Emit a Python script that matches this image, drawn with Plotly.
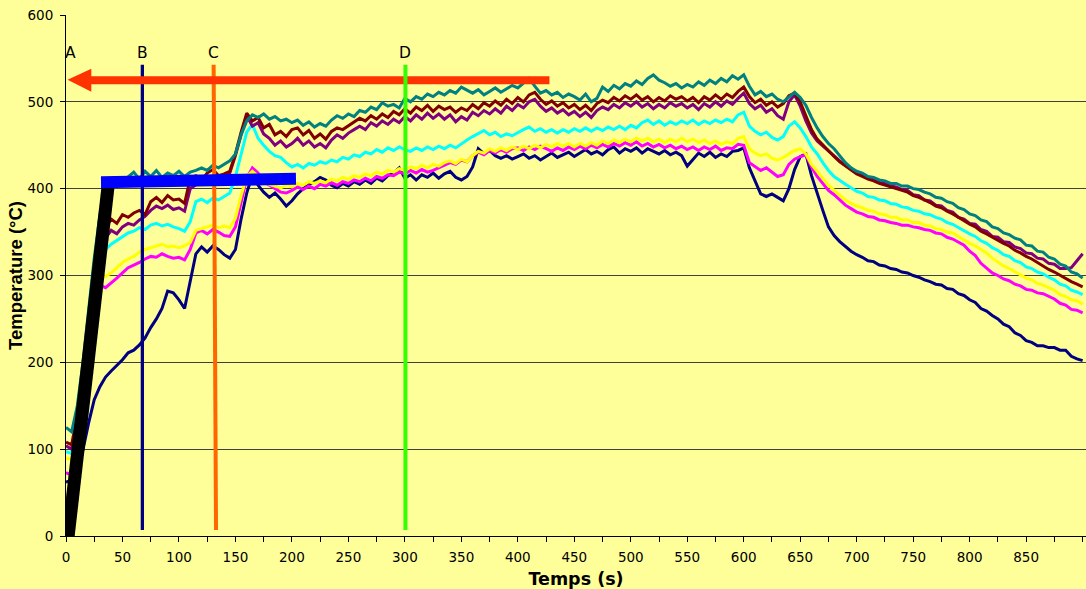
import plotly.graph_objects as go

# Sample times (s), one reading every 5 s
temps_s = list(range(0, 901, 5))

# Thermocouple readings (°C), rows of ten samples = 50 s
tc_navy = [
    62, 64, 72, 99, 130, 157, 172, 183, 190, 196,
    203, 211, 214, 220, 228, 240, 250, 262, 282, 280,
    272, 262, 292, 325, 333, 327, 334, 330, 324, 320,
    330, 365, 395, 416, 404, 396, 390, 395, 388, 380,
    386, 394, 400, 405, 408, 413, 410, 404, 401, 406,
    403, 408, 405, 410, 406, 412, 409, 415, 418, 424,
    412, 416, 410, 416, 413, 418, 412, 417, 420, 413,
    410, 414, 425, 446, 440, 444, 438, 435, 438, 434,
    437, 440, 435, 438, 433, 437, 441, 436, 439, 442,
    437, 441, 445, 440, 443, 439, 445, 448, 441, 446,
    443, 447, 441, 446, 443, 440, 444, 439, 442, 438,
    426, 434, 441, 437, 442, 436, 440, 437, 443, 444,
    447, 424, 408, 394, 391, 394, 390, 386, 400, 422,
    437, 440, 415, 394, 375, 356, 346, 339, 333, 328,
    324, 321, 317, 316, 312, 311, 308, 307, 304, 303,
    300, 298, 295, 293, 290, 289, 285, 284, 279, 277,
    272, 269, 262, 259, 254, 250, 244, 241, 234, 231,
    225, 223, 219, 219, 217, 217, 214, 214, 207, 204,
    202,
]
tc_magenta = [
    73, 70, 110, 165, 215, 255, 289, 286, 291, 297,
    303, 309, 312, 315, 319, 322, 321, 325, 322, 320,
    321, 318, 330, 349, 352, 348, 353, 350, 346, 345,
    356, 385, 412, 424, 418, 408, 404, 399, 396, 395,
    398, 402, 399, 403, 400, 405, 403, 407, 404, 408,
    406, 410, 408, 412, 409, 414, 412, 416, 415, 419,
    417, 421, 418, 422, 419, 421, 424, 427, 430, 428,
    433, 431, 438, 442, 439, 444, 441, 445, 442, 446,
    447, 444, 448, 445, 449, 446, 443, 447, 444, 448,
    445, 449, 446, 450, 447, 451, 448, 452, 449, 453,
    450, 454, 449, 452, 448, 451, 447, 450, 446, 449,
    445, 448, 444, 448, 445, 449, 444, 447, 446, 451,
    450, 430, 425, 421, 424, 419, 414, 416, 428, 434,
    437, 439, 425, 414, 406, 398, 393, 387, 381, 377,
    373, 371, 368, 367, 364, 363, 361, 360, 358, 358,
    356, 355, 353, 352, 349, 348, 344, 342, 338, 335,
    328, 323, 314, 309, 303, 300, 296, 294, 290, 288,
    284, 283, 280, 279, 276, 273, 268, 266, 261, 260,
    257,
]
tc_yellow = [
    90, 88, 125, 175, 225, 265, 296, 299, 303, 309,
    315, 319, 322, 327, 330, 332, 334, 336, 333, 334,
    332, 334, 338, 352, 354, 356, 358, 355, 357, 355,
    366, 392, 414, 420, 414, 409, 405, 403, 401, 404,
    402, 406, 404, 408, 406, 409, 407, 411, 409, 413,
    411, 415, 413, 417, 415, 419, 417, 421, 419, 423,
    421, 425, 423, 427, 424, 428, 426, 430, 432, 429,
    434, 431, 438, 443, 441, 446, 443, 447, 444, 448,
    445, 449, 446, 450, 447, 451, 448, 452, 449, 452,
    448, 452, 449, 453, 450, 455, 452, 456, 453, 457,
    454, 458, 455, 458, 454, 457, 453, 457, 454, 458,
    454, 457, 453, 456, 452, 455, 451, 454, 452, 458,
    460, 446, 441, 438, 440, 435, 433, 436, 440, 444,
    446, 440, 428, 420, 412, 404, 398, 392, 387, 383,
    380, 378, 375, 374, 371, 370, 367, 367, 364, 364,
    361, 361, 358, 357, 354, 353, 350, 349, 345, 342,
    337, 334, 330, 326, 320, 316, 311, 308, 304, 301,
    297, 295, 291, 289, 286, 283, 278, 276, 272, 271,
    267,
]
tc_cyan = [
    97, 95, 140, 190, 240, 290, 328, 330, 336, 340,
    345, 349, 351, 355, 353, 358, 360, 357, 359, 356,
    354, 351, 362, 385, 388, 384, 389, 387, 391, 395,
    414, 440, 465, 474, 458, 450, 443, 438, 436, 430,
    425, 428, 424, 429, 427, 431, 429, 433, 431, 436,
    434, 439, 437, 442, 440, 445, 442, 447, 444, 448,
    445, 443, 447, 444, 448, 445, 449, 446, 450, 447,
    452, 456, 460, 464, 467, 462, 465, 460, 463, 461,
    465, 468, 471, 466, 469, 465, 468, 464, 468, 465,
    469, 466, 470, 466, 470, 467, 471, 468, 472, 468,
    473, 470, 476, 479, 474, 478, 473, 477, 474, 478,
    475, 479, 474, 478, 475, 479, 476, 480, 477, 485,
    488, 472, 466, 462, 465, 459, 456, 460, 472, 477,
    470, 460, 448, 440, 430, 421, 414, 409, 405, 401,
    397, 395, 391, 390, 387, 386, 383, 382, 379, 378,
    375, 374, 371, 370, 367, 365, 361, 359, 355, 352,
    348, 345, 340, 337, 332, 329, 324, 322, 317, 315,
    310, 308, 304, 302, 298, 295, 290, 288, 283, 281,
    278,
]
tc_purple = [
    104, 100, 135, 185, 235, 285, 325, 343, 352, 348,
    356, 360, 358, 364, 368, 375, 380, 377, 381, 376,
    378, 374, 400, 405, 409, 412, 408, 411, 414, 418,
    438, 462, 484, 472, 476, 463, 458, 450, 455, 448,
    452, 458, 450, 455, 448, 452, 447, 456, 462, 458,
    464, 468, 472, 468, 476, 472, 478, 474, 480, 476,
    483, 478, 485, 480, 487, 481, 486, 480, 485, 477,
    483, 479, 488, 484, 490, 486, 492, 487, 495, 490,
    497, 493, 500, 503, 495, 489, 493, 487, 491, 485,
    489, 483, 488, 482, 490, 494, 491, 497, 493, 499,
    495, 500, 494, 498, 492, 497, 493, 499, 495, 498,
    493, 497, 491, 498, 494, 500, 495, 501, 497, 504,
    510, 498, 492, 496, 488, 492, 484, 480, 500, 508,
    495, 478, 464, 455, 449, 444, 438, 432, 427, 422,
    418, 416, 412, 411, 407, 406, 403, 402, 399, 398,
    393, 392, 387, 386, 381, 380, 375, 373, 367, 365,
    360, 359, 353, 351, 345, 344, 339, 338, 333, 331,
    326, 325, 320, 319, 314, 313, 308, 308, 309, 317,
    325,
]
tc_maroon = [
    108, 105, 140, 190, 240, 290, 335, 355, 365, 360,
    370, 367, 372, 375, 370, 385, 390, 384, 392, 387,
    388, 383, 412, 415, 410, 418, 422, 415, 417, 420,
    440, 465, 487, 478, 482, 470, 474, 462, 466, 460,
    468, 470, 462, 467, 458, 463, 457, 466, 470, 468,
    472, 476, 481, 478, 484, 480, 486, 482, 489, 485,
    492, 487, 494, 490, 496, 489, 495, 491, 494, 488,
    493, 490, 497, 492, 499, 495, 501, 496, 503, 498,
    505, 500, 508, 511, 503, 497, 501, 495, 499, 493,
    497, 491, 496, 490, 498, 502, 499, 505, 501, 507,
    503, 508, 502, 506, 500, 505, 501, 507, 503, 506,
    501, 505, 499, 506, 502, 508, 503, 509, 505, 512,
    517, 506, 499, 503, 496, 500, 494, 498, 507, 510,
    500, 484, 468, 457, 450, 444, 437, 431, 426, 421,
    417, 414, 411, 409, 406, 404, 402, 400, 398, 396,
    392, 390, 387, 384, 380, 378, 374, 371, 367, 363,
    359, 356, 351, 348, 344, 341, 337, 334, 329, 326,
    322, 319, 315, 312, 307, 304, 300, 297, 293, 290,
    287,
]
tc_teal = [
    125, 120, 150, 200, 260, 320, 370, 398, 400, 403,
    408, 414, 419, 411, 420, 414, 421, 413, 418, 415,
    420, 414, 419, 421, 424, 421, 427, 424, 428, 432,
    440, 462, 478, 485, 482, 486, 480, 483, 478, 480,
    476, 479, 473, 477, 471, 475, 472, 479, 484, 481,
    486, 483, 490, 488, 494, 491, 499, 495, 497, 493,
    504, 500, 506, 503, 509, 506, 511, 508, 513, 510,
    517, 513, 510, 514, 508, 512, 516, 511, 515, 519,
    516, 522, 527, 518, 510, 513, 508, 511, 505, 509,
    506, 502, 509, 500, 504, 517, 512, 519, 515, 521,
    518, 524, 520, 527, 531, 525, 522, 518, 521, 516,
    520, 517, 523, 519, 525, 521, 527, 523, 530, 526,
    531, 518, 508, 512, 506, 509, 503, 500, 506, 511,
    505, 496, 482, 470, 460, 452, 446, 438, 430, 424,
    420, 418, 414, 413, 410, 409, 406, 406, 403, 403,
    400, 399, 396, 394, 390, 389, 385, 383, 378, 376,
    371, 369, 364, 362, 356, 354, 349, 347, 343, 341,
    335, 334, 328, 327, 321, 319, 313, 311, 304, 302,
    297,
]

series = [
    ("TC1", tc_navy, "#000080"),
    ("TC2", tc_magenta, "#FF00FF"),
    ("TC3", tc_yellow, "#FFFF00"),
    ("TC4", tc_cyan, "#00FFFF"),
    ("TC5", tc_purple, "#800080"),
    ("TC6", tc_maroon, "#800000"),
    ("TC7", tc_teal, "#008080"),
]

# Phase markers: label and time (s)
phase_labels = ["A", "B", "C", "D"]
phase_times = [4, 67.6, 130.7, 300.5]
# vertical marker lines: time at top, time at bottom, colour, width
marker_lines = [
    (67.6, 67.6, "#000080", 3.3),
    (130.7, 132.8, "#FF6600", 4),
    (300.5, 300.5, "#33FF00", 4),
]

BG = "#FFFF99"
TICK_FONT = dict(family="DejaVu Sans", size=13.5, color="black")

fig = go.Figure()
for name, vals, color in series:
    fig.add_trace(go.Scatter(
        x=temps_s, y=vals, mode="lines", name=name,
        line=dict(color=color, width=3), showlegend=False,
        hoverinfo="skip",
    ))

shapes = []
# B and C lines sit under the red arrow
for (xt, xb, col, w) in marker_lines[:2]:
    shapes.append(dict(type="line", xref="x", yref="y", x0=xt, y0=542.6,
                       x1=xb, y1=7, line=dict(color=col, width=w), layer="above"))
# red arrow pointing back to t = 0
shapes.append(dict(type="line", xref="x", yref="y", x0=22, y0=525, x1=428, y1=525,
                   line=dict(color="#FF3300", width=8), layer="above"))
shapes.append(dict(type="path", xref="x", yref="y",
                   path="M 1.4,525.3 L 22.4,538 L 22.4,511.5 Z",
                   fillcolor="#FF3300", line=dict(width=0), layer="above"))
# D line
xt, xb, col, w = marker_lines[2]
shapes.append(dict(type="line", xref="x", yref="y", x0=xt, y0=542.6,
                   x1=xb, y1=7, line=dict(color=col, width=w), layer="above"))
# heating ramp and plateau
shapes.append(dict(type="line", xref="x", yref="y", x0=1.2, y0=-8, x1=37.6, y1=406.7,
                   line=dict(color="black", width=13), layer="above"))
shapes.append(dict(type="line", xref="x", yref="y", x0=31, y0=407.3, x1=203.6, y1=411.3,
                   line=dict(color="#0000FF", width=12), layer="above"))

annotations = [
    dict(x=t, y=556, xref="x", yref="y", text=lab, showarrow=False,
         font=dict(family="DejaVu Sans", size=15.5, color="black"),
         xanchor="center", yanchor="middle")
    for lab, t in zip(phase_labels, phase_times)
]

fig.update_layout(
    width=1086, height=589,
    margin=dict(l=66, r=0, t=15, b=53),
    paper_bgcolor=BG, plot_bgcolor=BG,
    shapes=shapes, annotations=annotations,
    xaxis=dict(
        range=[0, 903], tick0=0, dtick=50,
        ticks="outside", ticklen=5, tickcolor="black", tickwidth=1,
        ticklabelstandoff=4,
        showline=True, linecolor="black", linewidth=1,
        showgrid=False, zeroline=False,
        minor=dict(dtick=25, ticks="outside", ticklen=5, tickcolor="black", showgrid=False),
        tickfont=TICK_FONT,
        title=dict(text="Temps (s)", standoff=8,
                   font=dict(family="DejaVu Sans", size=17.5, color="black", weight="bold")),
        automargin=False,
    ),
    yaxis=dict(
        range=[0, 600], tick0=0, dtick=100,
        ticks="outside", ticklen=5, tickcolor="black", tickwidth=1,
        ticklabelstandoff=4,
        showline=True, linecolor="black", linewidth=1,
        showgrid=True, gridcolor="#404040", gridwidth=1, zeroline=False,
        tickfont=TICK_FONT,
        title=dict(text="Temperature (°C)", standoff=0,
                   font=dict(family="Liberation Sans", size=18.5, color="black", weight="bold")),
        automargin=False,
    ),
)

fig.write_html("out.html")
